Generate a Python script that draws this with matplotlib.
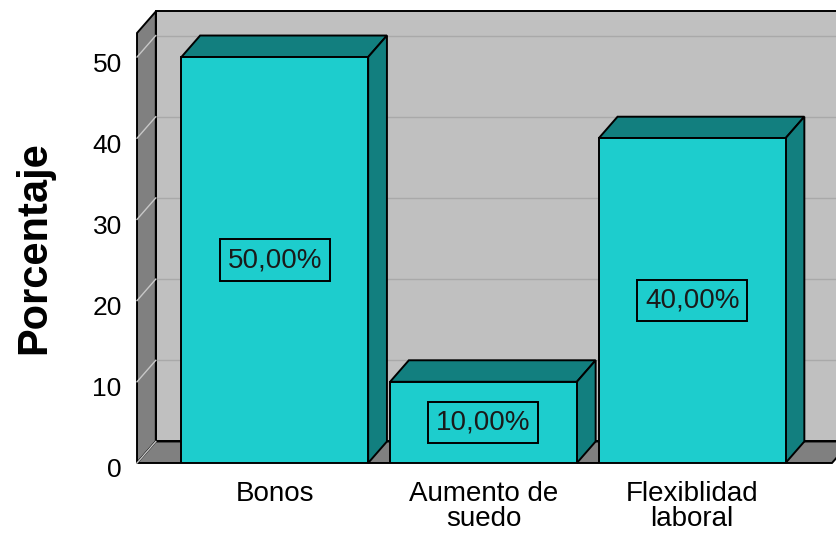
import matplotlib
matplotlib.use('Agg')
import matplotlib.pyplot as plt
import matplotlib.transforms as mtransforms
from matplotlib.patches import Polygon

# datos del gráfico
categorias = ['Bonos', 'Aumento de\nsuedo', 'Flexiblidad\nlaboral']
porcentajes = [50.0, 10.0, 40.0]
etiquetas = ['50,00%', '10,00%', '40,00%']
marcas_y = [0, 10, 20, 30, 40, 50]

CIAN = '#1dcdcd'
CIAN_OSC = '#127f7f'
GRIS_PARED = '#c0c0c0'
GRIS_OSC = '#808080'
LW = 1.4

plt.rcParams['font.family'] = ['Liberation Sans', 'DejaVu Sans']

fig = plt.figure(figsize=(8.36, 5.35), dpi=100)
ax = fig.add_axes([0.1639, 0.1346, 0.8313, 0.8037])
x0, x1 = -0.66, 2.67
y0, y1 = 0, 52.96
ax.set_xlim(x0, x1)
ax.set_ylim(y0, y1)

dx, dy = 0.09, 2.65      # profundidad del efecto 3D
ancho = 0.895


def poli(pts, color, z, ec='black', lw=LW):
    p = Polygon(pts, closed=True, facecolor=color, edgecolor=ec, lw=lw,
                zorder=z, clip_on=False, joinstyle='miter')
    ax.add_patch(p)
    return p


# pared del fondo
xr = x1 + dx + 0.5
poli([(x0 + dx, dy), (xr, dy), (xr, y1 + dy), (x0 + dx, y1 + dy)], GRIS_PARED, 1)
for v in marcas_y[1:]:
    ax.plot([x0 + dx, xr], [v + dy, v + dy], color='#a9a9a9', lw=1.0,
            zorder=1.5, clip_on=False)

# pared izquierda y suelo
poli([(x0, 0), (x0 + dx, dy), (x0 + dx, y1 + dy), (x0, y1)], GRIS_OSC, 2)
poli([(x0, 0), (x0 + dx, dy), (x1 + dx, dy), (x1, 0)], GRIS_OSC, 2)
for v in marcas_y:
    ax.plot([x0, x0 + dx], [v, v + dy], color='#c8c8c8', lw=1.0,
            zorder=2.5, clip_on=False)

# barras
pos = list(range(len(categorias)))
ax.bar(pos, porcentajes, width=ancho, color=CIAN, edgecolor='black',
       linewidth=LW, zorder=4)
for x, v, txt in zip(pos, porcentajes, etiquetas):
    izq, der = x - ancho / 2, x + ancho / 2
    poli([(izq, v), (izq + dx, v + dy), (der + dx, v + dy), (der, v)], CIAN_OSC, 3.5)
    poli([(der, 0), (der + dx, dy), (der + dx, v + dy), (der, v)], CIAN_OSC, 3.5)
    ax.text(x, v / 2, txt, ha='center', va='center', fontsize=20,
            color='#1a1a1a', zorder=6,
            bbox=dict(boxstyle='square,pad=0.28', fc='none', ec='black', lw=LW))

for s in ax.spines.values():
    s.set_visible(False)

ax.set_yticks(marcas_y)
ax.tick_params(axis='y', length=0, pad=11, labelsize=19)
desplazar = mtransforms.ScaledTranslation(0, -5 / 100, fig.dpi_scale_trans)
for lab in ax.get_yticklabels():
    lab.set_transform(lab.get_transform() + desplazar)

ax.set_xticks(pos)
ax.set_xticklabels(categorias, fontsize=20, linespacing=0.95)
ax.tick_params(axis='x', length=0, pad=13)

ax.set_ylabel('Porcentaje', fontsize=30, fontweight='bold')
ax.yaxis.set_label_coords(-0.119, 0.5)

fig.savefig('out.png', dpi=100)
